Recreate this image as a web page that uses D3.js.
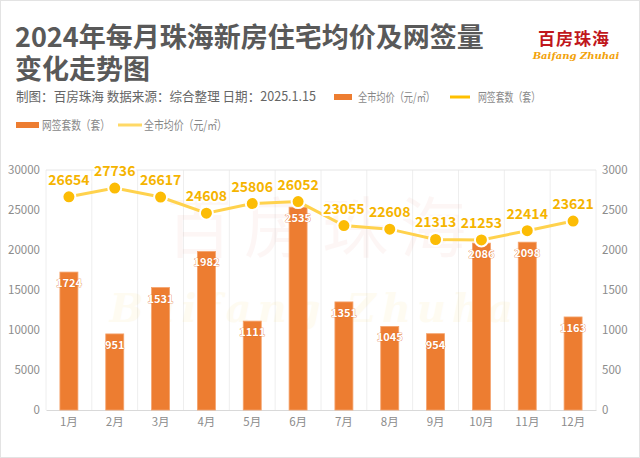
<!DOCTYPE html>
<html><head><meta charset="utf-8">
<script src="https://cdn.jsdelivr.net/npm/d3@7"></script>
<style>body{margin:0;background:#fff}svg{display:block;font-family:"Noto Sans CJK SC","Microsoft YaHei",sans-serif}</style>
</head><body>
<svg id="c" width="640" height="458"></svg>
<script>
const months = ["1月","2月","3月","4月","5月","6月","7月","8月","9月","10月","11月","12月"];
const avgPrice = [26654,27736,26617,24608,25806,26052,23055,22608,21313,21253,22414,23621];
const deals = [1724,951,1531,1982,1111,2535,1351,1045,954,2086,2098,1163];
const leftTicks = [0,5000,10000,15000,20000,25000,30000];
const rightTicks = [0,500,1000,1500,2000,2500,3000];

const svg = d3.select("#c");
const W=640,H=458;
svg.append("rect").attr("x",0.5).attr("y",0.5).attr("width",W-1).attr("height",H-1).attr("fill","#fff").attr("stroke","#e3e3e3");

const x0=46,x1=596,yT=170,yB=410;
const x = d3.scaleBand().domain(months).range([x0,x1]);
const yL = d3.scaleLinear().domain([0,30000]).range([yB,yT]);
const yR = d3.scaleLinear().domain([0,3000]).range([yB,yT]);

// title
svg.append("text").attr("x",15).attr("y",47).attr("font-size",27).attr("font-weight","bold").attr("fill","#595959").text("2024年每月珠海新房住宅均价及网签量");
svg.append("text").attr("x",15).attr("y",79).attr("font-size",27).attr("font-weight","bold").attr("fill","#595959").text("变化走势图");
svg.append("text").attr("x",16).attr("y",101).attr("font-size",13).attr("fill","#666")
  .attr("textLength",300).attr("lengthAdjust","spacingAndGlyphs")
  .text("制图：百房珠海 数据来源：综合整理 日期：2025.1.15");

// logo
svg.append("text").attr("x",574).attr("y",45).attr("text-anchor","middle").attr("font-size",17).attr("font-weight","bold").attr("fill","#c0171c").attr("letter-spacing",1).text("百房珠海");
svg.append("text").attr("x",576).attr("y",59).attr("text-anchor","middle").attr("font-size",10).attr("font-weight","bold").attr("font-style","italic").attr("font-family","DejaVu Serif").attr("fill","#f2a20a").text("Baifang Zhuhai");

// legends
function legend(y, fs, items){
  items.forEach(it=>{
    if(it.type==="bar") svg.append("rect").attr("x",it.x).attr("y",y-3).attr("width",it.w).attr("height",6).attr("fill","#ed7d31");
    else svg.append("line").attr("x1",it.x).attr("x2",it.x+it.w).attr("y1",y).attr("y2",y).attr("stroke",it.c).attr("stroke-width",3);
    svg.append("text").attr("x",it.tx).attr("y",y+4.5).attr("font-size",fs).attr("fill","#888")
      .attr("textLength",it.tl).attr("lengthAdjust","spacingAndGlyphs").text(it.t);
  });
}
legend(97,12,[{type:"bar",x:334,w:18,tx:358,tl:77,t:"全市均价（元/㎡）"},{type:"line",x:450,w:20,c:"#ffc000",tx:478,tl:62,t:"网签套数（套）"}]);
legend(125,12.5,[{type:"bar",x:16,w:23,tx:42,tl:68,t:"网签套数（套）"},{type:"line",x:118,w:24,c:"#ffd966",tx:144,tl:83,t:"全市均价（元/㎡）"}]);

// grid
const g = svg.append("g");
const bounds = months.map(m=>x(m)).concat([x1]);
g.selectAll("line.v").data(bounds).join("line").attr("x1",d=>d).attr("x2",d=>d).attr("y1",yT).attr("y2",yB).attr("stroke","#eeeeee");
g.append("line").attr("x1",x0).attr("x2",x1).attr("y1",yT).attr("y2",yT).attr("stroke","#e6e6e6");

// watermark
svg.append("text").attr("x",322).attr("y",252).attr("text-anchor","middle").attr("font-size",66).attr("fill","#e06050").attr("opacity",0.05).attr("letter-spacing",12).text("百房珠海");
svg.append("text").attr("x",325).attr("y",322).attr("text-anchor","middle").attr("font-size",40).attr("font-style","italic").attr("font-weight","bold").attr("font-family","DejaVu Serif").attr("fill","#f5c000").attr("opacity",0.05).attr("letter-spacing",6).text("Baifang Zhuhai");

// axes
const fmt = d3.format("d");
const axL = d3.axisLeft(yL).tickValues(leftTicks).tickFormat(fmt).tickSize(0).tickPadding(6);
const gl = svg.append("g").attr("transform",`translate(${x0},0)`).call(axL);
gl.select(".domain").remove();
gl.selectAll("text").attr("font-size",11.5).attr("fill","#8c8c8c").attr("font-family","Noto Sans CJK SC");
const axR = d3.axisRight(yR).tickValues(rightTicks).tickFormat(fmt).tickSize(0).tickPadding(6);
const gr = svg.append("g").attr("transform",`translate(${x1},0)`).call(axR);
gr.select(".domain").remove();
gr.selectAll("text").attr("font-size",11.5).attr("fill","#8c8c8c").attr("font-family","Noto Sans CJK SC");
const axB = d3.axisBottom(x).tickSize(0).tickPadding(8);
const gb = svg.append("g").attr("transform",`translate(0,${yB})`).call(axB);
gb.select(".domain").attr("stroke","#d9d9d9");
gb.selectAll("text").attr("font-size",11.5).attr("fill","#8c8c8c").attr("font-family","Noto Sans CJK SC");

// bars
const bw=18;
svg.append("g").selectAll("rect").data(deals).join("rect")
  .attr("x",(d,i)=>x(months[i])+x.bandwidth()/2-bw/2).attr("width",bw)
  .attr("y",d=>yR(d)).attr("height",d=>yB-yR(d)).attr("fill","#ed7d31").attr("stroke","#f4a46e").attr("stroke-width",0.8);
svg.append("g").selectAll("text").data(deals).join("text")
  .attr("x",(d,i)=>x(months[i])+x.bandwidth()/2).attr("y",d=>yR(d)+15)
  .attr("text-anchor","middle").attr("font-size",11).attr("font-weight","bold")
  .attr("fill","#fff").attr("stroke","#e06a1e").attr("stroke-width",0.6).attr("paint-order","stroke").text(d=>d);

// line
const line = d3.line().x((d,i)=>x(months[i])+x.bandwidth()/2).y(d=>yL(d));
svg.append("path").datum(avgPrice).attr("d",line).attr("fill","none").attr("stroke","#ffd24d").attr("stroke-width",3);
svg.append("g").selectAll("circle").data(avgPrice).join("circle")
  .attr("cx",(d,i)=>x(months[i])+x.bandwidth()/2).attr("cy",d=>yL(d)).attr("r",6.5)
  .attr("fill","#fcbc05").attr("stroke","#fff").attr("stroke-width",2);
svg.append("g").selectAll("text").data(avgPrice).join("text")
  .attr("x",(d,i)=>x(months[i])+x.bandwidth()/2).attr("y",d=>yL(d)-12)
  .attr("text-anchor","middle").attr("font-size",14).attr("font-weight","bold")
  .attr("fill","#f5b400").attr("stroke","#fff").attr("stroke-width",4).attr("stroke-linejoin","round").attr("paint-order","stroke").text(d=>d);
</script>
</body></html>
